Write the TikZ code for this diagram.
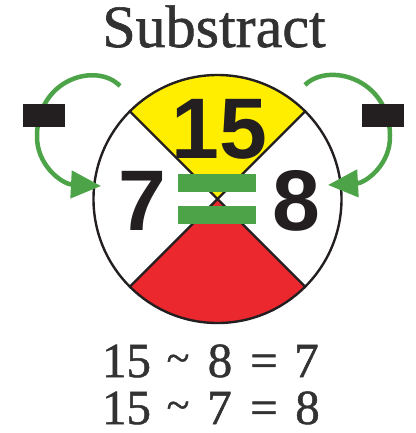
\documentclass[tikz,border=0pt]{standalone}
\usepackage{fontspec}
\setmainfont{Liberation Serif}
\newfontfamily\numfont{Liberation Sans}
\newfontfamily\serifmed[FakeBold=1]{Liberation Serif}
\usetikzlibrary{arrows.meta}
\definecolor{yel}{RGB}{255,238,0}
\definecolor{rd}{RGB}{234,40,45}
\definecolor{grn}{RGB}{77,163,72}
\definecolor{blk}{RGB}{35,31,32}
\definecolor{txtgray}{RGB}{50,50,50}
\tikzset{
  outline/.style={draw=blk, line width=2.4pt},
  bignum/.style={anchor=base, text=blk, inner sep=0pt, font=\numfont\bfseries\fontsize{86}{86}\selectfont},
  eqtxt/.style={anchor=base, text=txtgray, inner sep=0pt, text height=34pt, text depth=0pt, font=\serifmed\fontsize{49}{49}\selectfont},
  tildetxt/.style={anchor=base, text=txtgray, inner sep=0pt, text height=12pt, text depth=0pt, font=\serifmed\fontsize{42}{42}\selectfont},
  greenbar/.style={fill=grn, minimum width=78pt, minimum height=18pt, inner sep=0pt},
  minusbar/.style={fill=blk, minimum width=42pt, minimum height=22pt, inner sep=0pt},
  garrow/.style={draw=grn, line width=4.5pt, -{Triangle[length=30pt,width=27pt]}}
}
\begin{document}
\begin{tikzpicture}[x=1pt,y=-1pt]
\useasboundingbox (0,0) rectangle (415,433);
\coordinate (C) at (217.5,199);
% sectors
\fill[yel] (C) -- ++(225:124) arc[start angle=225, end angle=315, radius=124] -- cycle;
\fill[rd] (C) -- ++(45:124) arc[start angle=45, end angle=135, radius=124] -- cycle;
\node[circle, outline, minimum size=248pt, inner sep=0pt, outer sep=0pt] (wheel) at (C) {};
\draw[outline] (wheel.135) -- (wheel.-45);
\draw[outline] (wheel.45) -- (wheel.-135);
% title
\node[anchor=base, text=txtgray, inner sep=0pt, font=\serifmed\fontsize{60}{60}\selectfont] (title) at (214,47) {Substract};
% numbers
\node[bignum] (n15) at (219.5,158) {15};
\node[bignum] (n7) at (142,230) {7};
\node[bignum] (n8) at (296,230) {8};
% equals bars
\node[greenbar] (eqa) at (217,183) {};
\node[greenbar] (eqb) at (217,215) {};
% arrows
\coordinate (ls) at (120,86);
\coordinate (lt) at (101,186);
\coordinate (rs) at (305,85);
\coordinate (rt) at (328,185);
\draw[garrow] (ls) .. controls (97,62) and (38,78) .. (37,135) .. controls (36,165) and (62,184) .. (lt);
\draw[garrow] (rs) .. controls (328,62) and (389,78) .. (390,135) .. controls (391,165) and (365,183) .. (rt);
% minus signs
\node[minusbar] (lm) at (44,115.5) {};
\node[minusbar] (rm) at (382.5,115.5) {};
% equations
\node[eqtxt] (a1) at (126.5,377) {15};
\node[tildetxt] (a2) at (178,372) {\textasciitilde};
\node[eqtxt] (a3) at (220,377) {8};
\node[eqtxt] (a4) at (264,377) {=};
\node[eqtxt] (a5) at (306.5,377) {7};
\node[eqtxt] (b1) at (126.5,424) {15};
\node[tildetxt] (b2) at (178,419) {\textasciitilde};
\node[eqtxt] (b3) at (219.5,424) {7};
\node[eqtxt] (b4) at (264,424) {=};
\node[eqtxt] (b5) at (307.5,424) {8};
\end{tikzpicture}
\end{document}
